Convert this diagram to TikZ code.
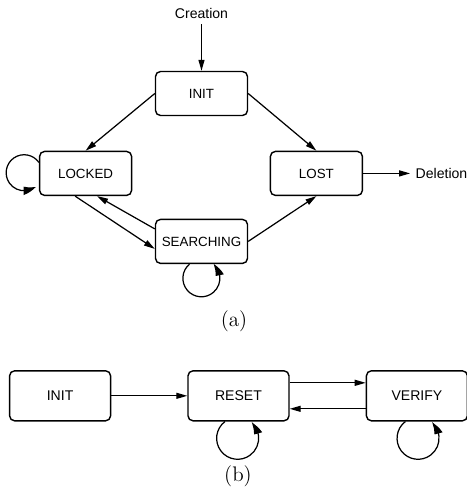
\documentclass[tikz,border=0pt]{standalone}
\usepackage{fontspec}
\usepackage{tikz}
\usetikzlibrary{arrows.meta, bending, positioning, calc}
\newfontfamily\boxfont{Liberation Sans}

\begin{document}
\begin{tikzpicture}[
    statebox/.style={rectangle, rounded corners=0.1cm, minimum width=1.84cm, minimum height=0.88cm, text centered, draw, line width=0.8pt, font=\boxfont\fontsize{7.6}{9}\selectfont},
    widebox/.style={statebox, minimum width=2.02cm, minimum height=1cm, font=\boxfont\fontsize{8}{10}\selectfont},
    endlabel/.style={inner sep=3pt, font=\boxfont\fontsize{8}{10}\selectfont},
    caption/.style={font=\large},
    arrow/.style={-{Triangle[length=2.2mm, width=1.2mm]}, line width=0.7pt},
    looparrow/.style={-{Triangle[length=2.6mm, width=1.6mm, bend]}, line width=0.7pt}
]
\useasboundingbox (0,0) rectangle (9.32,-9.9);

% (a)
\node[statebox] (init) at (4.03,-1.87) {INIT};
\node[statebox, below left=0.69cm and 0.45cm of init] (locked) {LOCKED};
\node[statebox, below right=0.69cm and 0.43cm of init] (lost) {LOST};
\node[statebox, below=2.05cm of init] (searching) {SEARCHING};
\node[endlabel, above=0.93cm of init] (creation) {Creation};
\node[endlabel, right=0.94cm of lost] (deletion) {Deletion};

\draw[arrow] (creation) -- (init);
\draw[arrow] (init.west) -- (locked.north);
\draw[arrow] (init.east) -- (lost.north);
\draw[arrow] ([xshift=-0.21cm]locked.south) -- ([yshift=-0.15cm]searching.west);
\draw[arrow] ([yshift=0.25cm]searching.west) -- ([xshift=0.23cm]locked.south);
\draw[arrow] (searching.east) -- (lost.south);
\draw[arrow] (lost) -- (deletion);
\draw[looparrow] ([yshift=0.22cm]locked.west) arc[start angle=35, end angle=310, radius=0.36cm];
\draw[looparrow] ([xshift=-0.24cm]searching.south) arc[start angle=130, end angle=410, radius=0.37cm];

\node[caption] (capa) at (4.68,-6.42) {(a)};

% (b)
\node[widebox, below=2.12cm of searching, xshift=0.74cm] (reset) {RESET};
\node[widebox, left=1.52cm of reset] (init2) {INIT};
\node[widebox, right=1.52cm of reset] (verify) {VERIFY};

\draw[arrow] (init2) -- (reset);
\draw[arrow] ([yshift=0.26cm]reset.east) -- ([yshift=0.26cm]verify.west);
\draw[arrow] ([yshift=-0.26cm]verify.west) -- ([yshift=-0.26cm]reset.east);
\draw[looparrow] ([xshift=-0.27cm]reset.south) arc[start angle=127, end angle=409, radius=0.42cm];
\draw[looparrow] ([xshift=-0.23cm]verify.south) arc[start angle=127, end angle=409, radius=0.42cm];

\node[caption] (capb) at (4.76,-9.52) {(b)};
\end{tikzpicture}
\end{document}
